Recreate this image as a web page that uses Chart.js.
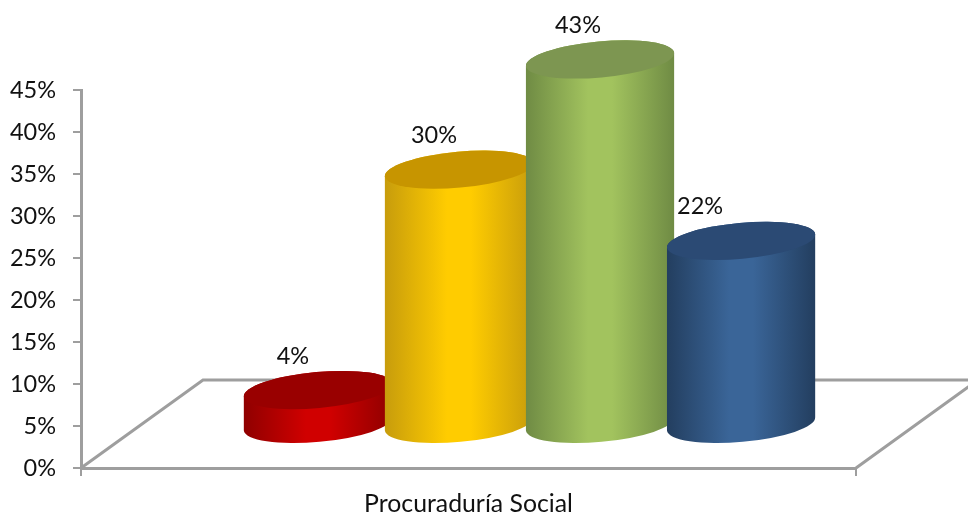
<!DOCTYPE html>
<html>
<head>
<meta charset="utf-8">
<title>Procuraduría Social</title>
<script src="https://cdn.jsdelivr.net/npm/chart.js@4"></script>
<style>
    html, body { margin: 0; padding: 0; background: #fff; }
    canvas { display: block; }
</style>
</head>
<body>
<canvas id="chart" width="968" height="513"></canvas>
<script>
// chart values
var categories = ["Procuraduría Social"];
var seriesValues = [4, 30, 43, 21.6];
var seriesNames = ["Serie 1", "Serie 2", "Serie 3", "Serie 4"];

// colours of each cylinder: edge of the body, middle of the body, lid
var edgeColors = ["#8f0000", "#c79c0c", "#6f8b44", "#233e5f"];
var midColors = ["#d00000", "#ffcc00", "#a2c35e", "#3a6598"];
var lidColors = ["#990000", "#c79500", "#7d9651", "#2b4a74"];

// the picture is a fake 3D one, the floor runs back and to the right
var depthX = 122;
var depthY = 88;
var shiftX = 61;     // cylinders stand in the middle of the floor
var tilt = -0.09;
var lidRadiusY = 18;
var labelDx = [-25, -25, -22, -41];
var labelDy = 34;
var gray = "#9e9e9e";
var fontName = "Lato, Carlito, sans-serif";
var fontSize = 23.5;

function drawCylinder(ctx, cx, top, base, rx, i) {
    var grad = ctx.createLinearGradient(cx - rx, 0, cx + rx, 0);
    grad.addColorStop(0, edgeColors[i]);
    grad.addColorStop(0.42, midColors[i]);
    grad.addColorStop(0.58, midColors[i]);
    grad.addColorStop(1, edgeColors[i]);

    ctx.beginPath();
    ctx.ellipse(cx, base, rx, lidRadiusY, tilt, 0, Math.PI, false);
    ctx.ellipse(cx, top, rx, lidRadiusY, tilt, Math.PI, 0, false);
    ctx.closePath();
    ctx.fillStyle = grad;
    ctx.fill();

    ctx.beginPath();
    ctx.ellipse(cx, top, rx, lidRadiusY, tilt, 0, Math.PI * 2);
    ctx.fillStyle = lidColors[i];
    ctx.fill();
}

var cylinderPlugin = {
    id: "cylinders",
    // the floor goes under the cylinders
    beforeDatasetsDraw: function(chart) {
        var ctx = chart.ctx;
        var a = chart.chartArea;
        ctx.save();
        ctx.strokeStyle = gray;
        ctx.lineWidth = 3;
        ctx.beginPath();
        ctx.moveTo(a.left, a.bottom);
        ctx.lineTo(a.left + depthX, a.bottom - depthY);
        ctx.lineTo(a.right + depthX, a.bottom - depthY);
        ctx.lineTo(a.right, a.bottom);
        ctx.stroke();
        ctx.restore();
    },
    // library bars are replaced by cylinders
    beforeDatasetDraw: function() {
        return false;
    },
    afterDatasetsDraw: function(chart) {
        var ctx = chart.ctx;
        ctx.save();
        chart.data.datasets.forEach(function(ds, i) {
            var bar = chart.getDatasetMeta(i).data[0];
            drawCylinder(ctx, bar.x + shiftX, bar.y, bar.base, bar.width / 2, i);
        });
        ctx.fillStyle = "#111111";
        ctx.font = fontSize + "px " + fontName;
        ctx.textAlign = "center";
        ctx.textBaseline = "middle";
        chart.data.datasets.forEach(function(ds, i) {
            var bar = chart.getDatasetMeta(i).data[0];
            ctx.fillText(Math.round(ds.data[0]) + "%", bar.x + shiftX + labelDx[i], bar.y - labelDy);
        });
        ctx.restore();
    }
};

new Chart(document.getElementById("chart"), {
    type: "bar",
    data: {
        labels: categories,
        datasets: seriesValues.map(function(v, i) {
            return {
                label: seriesNames[i],
                data: [v],
                yAxisID: "yBars",
                backgroundColor: midColors[i],
                categoryPercentage: 0.728,
                barPercentage: 1.055
            };
        })
    },
    options: {
        responsive: false,
        animation: false,
        layout: { padding: { top: 90, right: 112, left: 0, bottom: 0 } },
        plugins: { legend: { display: false }, tooltip: { enabled: false } },
        scales: {
            x: {
                afterFit: function(scale) { scale.height = 45; },
                grid: { drawOnChartArea: false, color: gray, lineWidth: 2, tickLength: 8 },
                border: { color: gray, width: 3 },
                ticks: { color: "#111111", font: { family: fontName, size: 24.8 }, padding: 13 }
            },
            y: {
                min: 0,
                max: 45,
                afterFit: function(scale) { scale.width = 81; },
                grid: { drawOnChartArea: false, color: gray, lineWidth: 2, tickLength: 8 },
                border: { color: gray, width: 3 },
                ticks: {
                    stepSize: 5,
                    color: "#111111",
                    padding: 17,
                    font: { family: fontName, size: fontSize },
                    callback: function(v) { return v + "%"; }
                }
            },
            // same slope as y, lifted so the bases sit on the floor
            yBars: {
                display: false,
                min: -5.2,
                max: 39.4
            }
        }
    },
    plugins: [cylinderPlugin]
});
</script>
</body>
</html>
